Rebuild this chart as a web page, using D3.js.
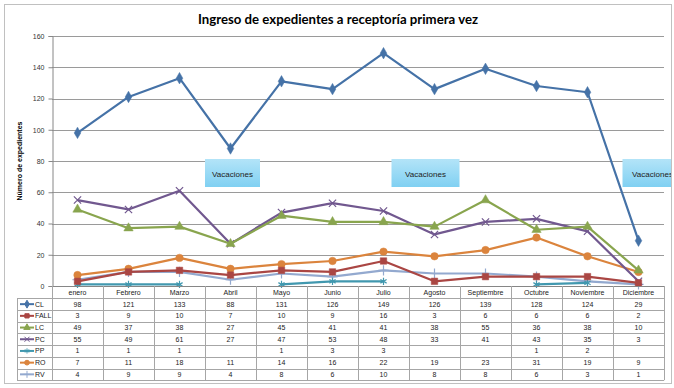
<!DOCTYPE html>
<html>
<head>
<meta charset="utf-8">
<script src="https://cdn.jsdelivr.net/npm/d3@7"></script>
<style>
body { margin: 0; background: #fff; }
svg { display: block; font-family: "Liberation Sans", Arial, sans-serif; }
</style>
</head>
<body>
<svg id="chart" width="674" height="388"></svg>
<script>
var months = ["enero", "Febrero", "Marzo", "Abril", "Mayo", "Junio", "Julio", "Agosto", "Septiembre", "Octubre", "Noviembre", "Diciembre"];
var seriesNames = ["CL", "FALL", "LC", "PC", "PP", "RO", "RV"];
var CL = [98, 121, 133, 88, 131, 126, 149, 126, 139, 128, 124, 29];
var FALL = [3, 9, 10, 7, 10, 9, 16, 3, 6, 6, 6, 2];
var LC = [49, 37, 38, 27, 45, 41, 41, 38, 55, 36, 38, 10];
var PC = [55, 49, 61, 27, 47, 53, 48, 33, 41, 43, 35, 3];
var PP = [1, 1, 1, null, 1, 3, 3, null, null, 1, 2, null];
var RO = [7, 11, 18, 11, 14, 16, 22, 19, 23, 31, 19, 9];
var RV = [4, 9, 9, 4, 8, 6, 10, 8, 8, 6, 3, 1];
var yTicks = [0, 20, 40, 60, 80, 100, 120, 140, 160];
var vacaciones = ["Abril", "Julio", "Diciembre"];

var values = { CL: CL, FALL: FALL, LC: LC, PC: PC, PP: PP, RO: RO, RV: RV };
var styles = {
	CL: { color: "#4572A7", sym: d3.symbolDiamond, size: 38, fill: true },
	FALL: { color: "#AA4643", sym: d3.symbolSquare, size: 42, fill: true },
	LC: { color: "#89A54E", sym: d3.symbolTriangle, size: 38, fill: true },
	PC: { color: "#71588F", sym: d3.symbolTimes || d3.symbolCross, size: 36, fill: false },
	PP: { color: "#4198AF", sym: d3.symbolAsterisk || d3.symbolCross, size: 36, fill: false },
	RO: { color: "#DB843D", sym: d3.symbolCircle, size: 44, fill: true },
	RV: { color: "#93A9CF", sym: d3.symbolPlus || d3.symbolCross, size: 36, fill: false }
};

var svg = d3.select("#chart");
var plot = { left: 52, right: 664, top: 36, bottom: 286 };
var rowH = 11.7, headH = 12.3, legendLeft = 17;

var x = d3.scaleBand().domain(months).range([plot.left, plot.right]);
var y = d3.scaleLinear().domain([0, 160]).range([plot.bottom, plot.top]);

// outer frame
svg.append("rect")
	.attr("x", 4.5).attr("y", 4.5)
	.attr("width", 667).attr("height", 379)
	.attr("fill", "#fff")
	.attr("stroke", "#c0c0c0");

svg.append("clipPath").attr("id", "frame")
	.append("rect").attr("x", 5).attr("y", 5).attr("width", 666).attr("height", 378);

svg.append("text")
	.attr("x", 338).attr("y", 24)
	.attr("text-anchor", "middle")
	.attr("font-family", "Lato, 'Open Sans', sans-serif")
	.attr("font-weight", "bold")
	.attr("font-size", 13.5)
	.attr("textLength", 280)
	.attr("lengthAdjust", "spacingAndGlyphs")
	.text("Ingreso de expedientes a receptoría  primera vez");

// gridlines
svg.append("g").selectAll("line")
	.data(yTicks.slice(1))
	.join("line")
	.attr("x1", plot.left).attr("x2", plot.right)
	.attr("y1", function(d) { return Math.round(y(d)) + 0.5; })
	.attr("y2", function(d) { return Math.round(y(d)) + 0.5; })
	.attr("stroke", "#9a9a9a");

// y axis
var yAxis = svg.append("g")
	.attr("transform", "translate(" + (plot.left + 0.5) + ",0)")
	.call(d3.axisLeft(y).tickValues(yTicks).tickSize(4).tickPadding(4));
yAxis.select(".domain").attr("stroke", "#868686");
yAxis.selectAll(".tick line").attr("stroke", "#868686");
yAxis.selectAll(".tick text")
	.attr("font-size", 7)
	.attr("fill", "#333");

svg.append("text")
	.attr("transform", "translate(22," + ((plot.top + plot.bottom) / 2) + ") rotate(-90)")
	.attr("text-anchor", "middle")
	.attr("font-size", 7)
	.attr("font-weight", "bold")
	.text("Número de expedientes");

// vacaciones boxes
var grad = svg.append("defs").append("linearGradient")
	.attr("id", "vac").attr("x1", 0).attr("y1", 0).attr("x2", 0).attr("y2", 1);
grad.append("stop").attr("offset", "0%").attr("stop-color", "#b3e4f8");
grad.append("stop").attr("offset", "100%").attr("stop-color", "#80d0f2");

var vacOffset = { "Abril": 2, "Julio": 42, "Diciembre": 14 };
var vacW = { "Abril": 55, "Julio": 68, "Diciembre": 60 };
var vac = svg.append("g").attr("clip-path", "url(#frame)").selectAll("g")
	.data(vacaciones)
	.join("g")
	.attr("transform", function(d) {
		var cx = x(d) + x.bandwidth() / 2 + vacOffset[d];
		return "translate(" + (cx - vacW[d] / 2) + ",159)";
	});
vac.append("rect")
	.attr("width", function(d) { return vacW[d]; })
	.attr("height", 28)
	.attr("fill", "url(#vac)");
vac.append("text")
	.attr("x", function(d) { return vacW[d] / 2; })
	.attr("y", 17.5)
	.attr("text-anchor", "middle")
	.attr("font-size", 8)
	.attr("fill", "#222")
	.text("Vacaciones");

// lines
var line = d3.line()
	.defined(function(d) { return d != null; })
	.x(function(d, i) { return x(months[i]) + x.bandwidth() / 2; })
	.y(function(d) { return y(d); });

var sg = svg.append("g").selectAll("g")
	.data(seriesNames.slice().reverse())
	.join("g");

sg.append("path")
	.attr("d", function(s) { return line(values[s]); })
	.attr("fill", "none")
	.attr("stroke", function(s) { return styles[s].color; })
	.attr("stroke-width", 2.2)
	.attr("stroke-linejoin", "round");

sg.each(function(s) {
	var st = styles[s];
	var pts = values[s].map(function(v, i) { return { v: v, m: months[i] }; })
		.filter(function(p) { return p.v != null; });
	d3.select(this).selectAll("path.mk")
		.data(pts)
		.join("path")
		.attr("class", "mk")
		.attr("transform", function(p) { return "translate(" + (x(p.m) + x.bandwidth() / 2) + "," + y(p.v) + ")"; })
		.attr("d", d3.symbol().type(st.sym).size(st.size))
		.attr("fill", st.fill ? st.color : "none")
		.attr("stroke", st.color)
		.attr("stroke-width", st.fill ? 0.5 : 1.2);
});

// x axis line
svg.append("line")
	.attr("x1", plot.left).attr("x2", plot.right)
	.attr("y1", plot.bottom + 0.5).attr("y2", plot.bottom + 0.5)
	.attr("stroke", "#868686");

// data table
var table = svg.append("g").attr("font-size", 7).attr("fill", "#222");
var tableBottom = plot.bottom + headH + rowH * seriesNames.length;
var gridColor = "#a6a6a6";

// vertical borders
table.selectAll("line.v")
	.data(months.map(function(m) { return x(m); }).concat([plot.right]))
	.join("line")
	.attr("x1", function(d) { return Math.round(d) + 0.5; })
	.attr("x2", function(d) { return Math.round(d) + 0.5; })
	.attr("y1", plot.bottom)
	.attr("y2", tableBottom)
	.attr("stroke", gridColor);
table.append("line")
	.attr("x1", legendLeft + 0.5).attr("x2", legendLeft + 0.5)
	.attr("y1", plot.bottom + headH).attr("y2", tableBottom)
	.attr("stroke", gridColor);

// horizontal borders
table.selectAll("line.h")
	.data(d3.range(seriesNames.length + 1))
	.join("line")
	.attr("x1", legendLeft)
	.attr("x2", plot.right)
	.attr("y1", function(i) { return Math.round(plot.bottom + headH + i * rowH) + 0.5; })
	.attr("y2", function(i) { return Math.round(plot.bottom + headH + i * rowH) + 0.5; })
	.attr("stroke", gridColor);

table.selectAll("text.head")
	.data(months)
	.join("text")
	.attr("x", function(m) { return x(m) + x.bandwidth() / 2; })
	.attr("y", plot.bottom + headH / 2 + 2.5)
	.attr("text-anchor", "middle")
	.text(function(m) { return m; });

var rows = table.selectAll("g.row")
	.data(seriesNames)
	.join("g")
	.attr("transform", function(s, i) { return "translate(0," + (plot.bottom + headH + i * rowH + rowH / 2) + ")"; });

rows.append("line")
	.attr("x1", legendLeft + 3).attr("x2", legendLeft + 17)
	.attr("stroke", function(s) { return styles[s].color; })
	.attr("stroke-width", 2);
rows.append("path")
	.attr("transform", "translate(" + (legendLeft + 10) + ",0)")
	.attr("d", function(s) { return d3.symbol().type(styles[s].sym).size(18)(); })
	.attr("fill", function(s) { return styles[s].fill ? styles[s].color : "none"; })
	.attr("stroke", function(s) { return styles[s].color; })
	.attr("stroke-width", 1);
rows.append("text")
	.attr("x", legendLeft + 18)
	.attr("y", 2.5)
	.text(function(s) { return s; });

rows.each(function(s) {
	d3.select(this).selectAll("text.val")
		.data(values[s].map(function(v, i) { return { v: v, m: months[i] }; }))
		.join("text")
		.attr("x", function(p) { return x(p.m) + x.bandwidth() / 2; })
		.attr("y", 2.5)
		.attr("text-anchor", "middle")
		.text(function(p) { return p.v == null ? "" : p.v; });
});
</script>
</body>
</html>
